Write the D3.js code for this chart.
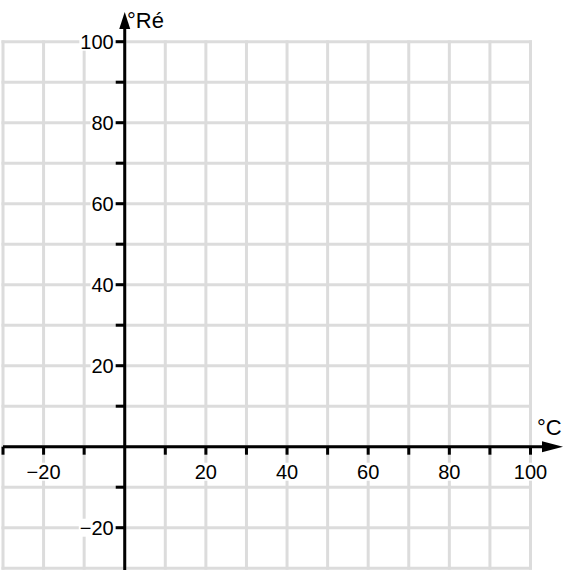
<!DOCTYPE html>
<html>
<head>
<meta charset="utf-8">
<script src="https://cdn.jsdelivr.net/npm/d3@7"></script>
<style>
  body { margin: 0; background: #fff; }
  svg text { font-family: "Liberation Sans", Arial, sans-serif; }
</style>
</head>
<body>
<div id="chart"></div>
<script>
// axis ranges and tick labels
const xDomain = [-30, 100];
const yDomain = [-30, 100];
const gridStep = 10;
const xLabels = [-20, 20, 40, 60, 80, 100];
const yLabels = [-20, 20, 40, 60, 80, 100];
const xTitle = "°C";
const yTitle = "°Ré";

const width = 572, height = 572;

let svg = d3.select('#chart').append('svg')
  .attr('width', width)
  .attr('height', height);

let x = d3.scaleLinear().domain(xDomain).range([3, 530.5]);
let y = d3.scaleLinear().domain(yDomain).range([568.2, 41.7]);

const gridVals = d3.range(xDomain[0], xDomain[1] + 1, gridStep);
const fmt = v => v < 0 ? '\u2212' + Math.abs(v) : String(v);

let grid = svg.append('g')
  .attr('stroke', '#dcdcdc')
  .attr('stroke-width', 3)
  .attr('stroke-linecap', 'square');

grid.selectAll('line.v')
  .data(gridVals)
  .enter()
  .append('line')
  .attr('class', 'v')
  .attr('x1', d => x(d)).attr('x2', d => x(d))
  .attr('y1', y(yDomain[0])).attr('y2', y(yDomain[1]));

grid.selectAll('line.h')
  .data(d3.range(yDomain[0], yDomain[1] + 1, gridStep))
  .enter()
  .append('line')
  .attr('class', 'h')
  .attr('y1', d => y(d)).attr('y2', d => y(d))
  .attr('x1', x(xDomain[0])).attr('x2', x(xDomain[1]));

// axes
let axes = svg.append('g').attr('stroke', '#000').attr('stroke-width', 3);

axes.append('line')
  .attr('x1', x(xDomain[0])).attr('x2', 548)
  .attr('y1', y(0)).attr('y2', y(0));

axes.append('line')
  .attr('x1', x(0)).attr('x2', x(0))
  .attr('y1', 570).attr('y2', 26);

// arrow heads
svg.append('path')
  .attr('d', `M563,${y(0)} L542,${y(0) - 5.5} L542,${y(0) + 5.5} Z`)
  .attr('fill', '#000');
svg.append('path')
  .attr('d', `M${x(0)},12 L${x(0) - 5.5},29 L${x(0) + 5.5},29 Z`)
  .attr('fill', '#000');

// ticks
axes.selectAll('line.xt')
  .data(gridVals.filter(d => d !== 0))
  .enter()
  .append('line')
  .attr('x1', d => x(d)).attr('x2', d => x(d))
  .attr('y1', y(0)).attr('y2', y(0) + 8);

axes.selectAll('line.yt')
  .data(d3.range(-20, yDomain[1] + 1, gridStep).filter(d => d !== 0))
  .enter()
  .append('line')
  .attr('y1', d => y(d)).attr('y2', d => y(d))
  .attr('x1', x(0) - 9).attr('x2', x(0));

// labels with white boxes
const addLabel = (g, tx, ty, anchor, txt) => {
  let t = g.append('text')
    .attr('x', tx).attr('y', ty)
    .attr('text-anchor', anchor)
    .attr('font-size', 20)
    .attr('fill', '#000')
    .text(txt);
  let b = t.node().getBBox();
  g.insert('rect', () => t.node())
    .attr('x', b.x - 1).attr('y', b.y + 2)
    .attr('width', b.width + 2).attr('height', b.height - 4)
    .attr('fill', '#fff');
};

let labels = svg.append('g');
xLabels.forEach(v => addLabel(labels, x(v), y(0) + 32, 'middle', fmt(v)));
yLabels.forEach(v => addLabel(labels, x(0) - 11, y(v) + 7, 'end', fmt(v)));

svg.append('text')
  .attr('x', 537).attr('y', 435)
  .attr('font-size', 22)
  .text(xTitle);

svg.append('text')
  .attr('x', 127).attr('y', 28)
  .attr('font-size', 22)
  .text(yTitle);
</script>
</body>
</html>
